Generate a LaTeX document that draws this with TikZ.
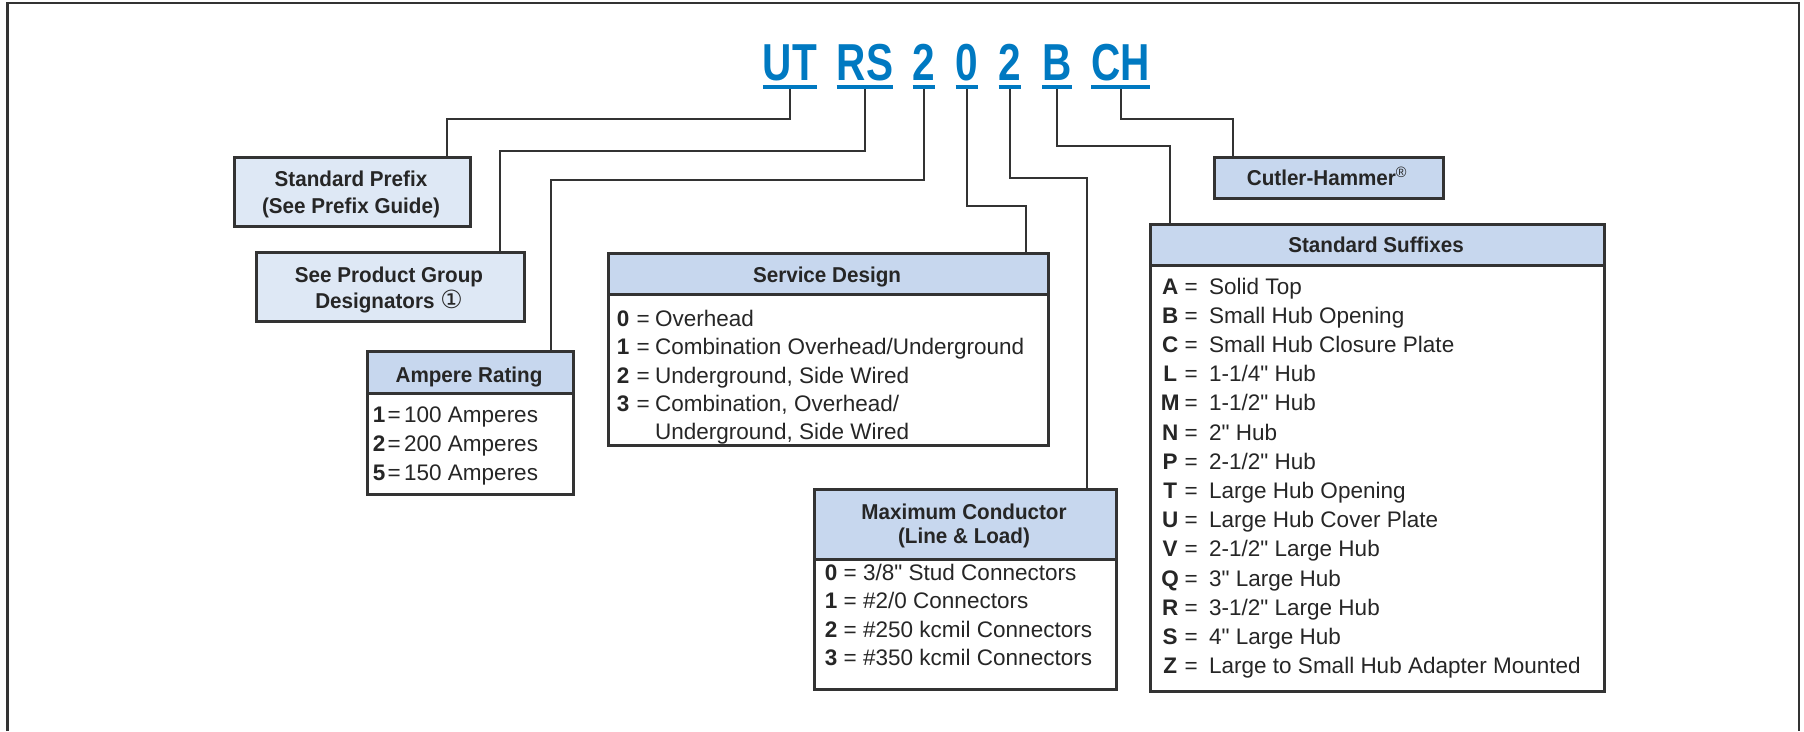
\documentclass[tikz,border=0pt]{standalone}
\usepackage{fontspec}
\setmainfont{Liberation Sans}[Ligatures=TeXOff]
\newfontfamily\titlefont[FakeStretch=0.78]{Liberation Sans}
\newfontfamily\hdfont[FakeStretch=0.96]{Liberation Sans}
\newfontfamily\symfont{DejaVu Sans}
\definecolor{ttlblue}{RGB}{0,121,193}
\definecolor{lightfill}{RGB}{222,232,245}
\definecolor{headfill}{RGB}{199,215,238}
\definecolor{linegray}{RGB}{51,51,51}
\newcommand\lrow[4]{\makebox[0pt]{\textbf{#1}}\hspace{#2}\makebox[0pt]{=}\hspace{#3}#4}
\tikzset{
  box/.style={draw=linegray, line width=2.5pt, inner sep=0pt, anchor=north west, fill=white},
  lbox/.style={box, fill=lightfill},
  hbox/.style={box, fill=headfill},
  hd/.style={inner sep=0pt, anchor=base, font=\hdfont\bfseries\fontsize{21.5}{25}\selectfont, text=black!85},
  tx/.style={inner sep=0pt, anchor=base west, font=\fontsize{22.5}{27}\selectfont, text=black!85},
  ttl/.style={inner xsep=0pt, inner ysep=0pt, text depth=7pt, anchor=base,
    font=\titlefont\bfseries\fontsize{52}{60}\selectfont, text=ttlblue},
  uline/.style={draw=ttlblue, line width=4pt},
  con/.style={draw=linegray, line width=2pt},
  frame/.style={draw=linegray, line width=2.5pt}
}
\begin{document}
\begin{tikzpicture}[x=1pt, y=-1pt]
\useasboundingbox (0,0) rectangle (1804,731);
\draw[frame] (7.5,731) -- (7.5,3) -- (1799,3) -- (1799,731);

% title
\node[ttl] (ut) at (790,80) {UT};
\node[ttl] (rs) at (865,80) {RS};
\node[ttl] (d1) at (924,80) {2};
\node[ttl] (d2) at (967,80) {0};
\node[ttl] (d3) at (1010,80) {2};
\node[ttl] (lb) at (1057,80) {B};
\node[ttl] (ch) at (1120.5,80) {CH};

% boxes
\node[lbox, minimum width=236pt, minimum height=69pt] (prefix) at (233,156) {};
\node[hd] (prefixa) at (351,186) {Standard Prefix};
\node[hd] (prefixb) at (351,213) {(See Prefix Guide)};

\node[lbox, minimum width=268pt, minimum height=69pt] (product) at (255,251) {};
\node[hd] (producta) at (389,282) {See Product Group};
\node[hd] (productb) at (389,308) {Designators {\symfont\mdseries\fontsize{25}{25}\selectfont ①}};

\node[box, minimum width=206pt, minimum height=143pt] (ampere) at (366,350) {};
\node[hbox, minimum width=206pt, minimum height=42pt] (ampereh) at (366,350) {};
\node[hd] (amperet) at (469,382) {Ampere Rating};
\node[tx] (amp1) at (379,422) {\lrow{1}{15pt}{10pt}{100 Amperes}};
\node[tx] (amp2) at (379,451) {\lrow{2}{15pt}{10pt}{200 Amperes}};
\node[tx] (amp3) at (379,480) {\lrow{5}{15pt}{10pt}{150 Amperes}};

\node[box, minimum width=440pt, minimum height=192pt] (service) at (607,252) {};
\node[hbox, minimum width=440pt, minimum height=41pt] (serviceh) at (607,252) {};
\node[hd] (servicet) at (827,282) {Service Design};
\node[tx] (sv0) at (623,326) {\lrow{0}{20pt}{12pt}{Overhead}};
\node[tx] (sv1) at (623,354) {\lrow{1}{20pt}{12pt}{Combination Overhead/Underground}};
\node[tx] (sv2) at (623,383) {\lrow{2}{20pt}{12pt}{Underground, Side Wired}};
\node[tx] (sv3) at (623,411) {\lrow{3}{20pt}{12pt}{Combination, Overhead/}};
\node[tx] (sv4) at (655,439) {Underground, Side Wired};

\node[box, minimum width=302pt, minimum height=200pt] (maxc) at (813,488) {};
\node[hbox, minimum width=302pt, minimum height=70pt] (maxch) at (813,488) {};
\node[hd] (maxca) at (964,519) {Maximum Conductor};
\node[hd] (maxcb) at (964,543) {(Line \& Load)};
\node[tx] (mc0) at (831,580) {\lrow{0}{19pt}{13pt}{3/8" Stud Connectors}};
\node[tx] (mc1) at (831,608) {\lrow{1}{19pt}{13pt}{\#2/0 Connectors}};
\node[tx] (mc2) at (831,637) {\lrow{2}{19pt}{13pt}{\#250 kcmil Connectors}};
\node[tx] (mc3) at (831,665) {\lrow{3}{19pt}{13pt}{\#350 kcmil Connectors}};

\node[hbox, minimum width=229pt, minimum height=41pt] (cutler) at (1213,156) {};
\node[hd] (cutlert) at (1327,185) {Cutler-Hammer\textsuperscript{\mdseries ®}};

\node[box, minimum width=454pt, minimum height=467pt] (suffix) at (1149,223) {};
\node[hbox, minimum width=454pt, minimum height=41pt] (suffixh) at (1149,223) {};
\node[hd] (suffixt) at (1376,252) {Standard Suffixes};
\foreach \L/\T [count=\i from 0] in {
  A/{Solid Top}, B/{Small Hub Opening}, C/{Small Hub Closure Plate}, L/{1-1/4" Hub},
  M/{1-1/2" Hub}, N/{2" Hub}, P/{2-1/2" Hub}, T/{Large Hub Opening}, U/{Large Hub Cover Plate},
  V/{2-1/2" Large Hub}, Q/{3" Large Hub}, R/{3-1/2" Large Hub}, S/{4" Large Hub},
  Z/{Large to Small Hub Adapter Mounted}}{
  \node[tx] (sf\i) at (1170,294+29.2*\i) {\lrow{\L}{21pt}{18pt}{\T}};
}

% connectors
\coordinate (k1) at (447,119);
\coordinate (k2) at (500,151);
\coordinate (k3) at (551,180);
\coordinate (k4) at (1026,206);
\coordinate (k5) at (1087,178);
\coordinate (k6) at (1170,146);
\coordinate (k7) at (1233,119);
\draw[con] (ut.south) |- (k1) -- (prefix.north -| k1);
\draw[con] (rs.south) |- (k2) -- (product.north -| k2);
\draw[con] (d1.south) |- (k3) -- (ampere.north -| k3);
\draw[con] (d2.south) |- (k4) -- (service.north -| k4);
\draw[con] (d3.south) |- (k5) -- (maxc.north -| k5);
\draw[con] (lb.south) |- (k6) -- (suffix.north -| k6);
\draw[con] (ch.south) |- (k7) -- (cutler.north -| k7);
\foreach \n in {ut,rs,d1,d2,d3,lb,ch}{\draw[uline] (\n.south west) -- (\n.south east);}
\end{tikzpicture}
\end{document}
